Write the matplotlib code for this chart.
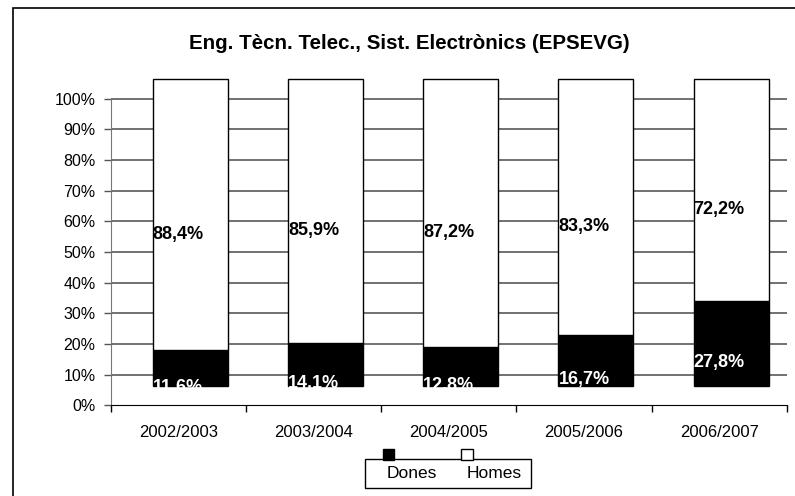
import matplotlib.pyplot as plt
from matplotlib.patches import Rectangle

plt.rcParams["font.family"] = ["Liberation Sans", "DejaVu Sans"]

years = ["2002/2003", "2003/2004", "2004/2005", "2005/2006", "2006/2007"]
dones = [11.6, 14.1, 12.8, 16.7, 27.8]
homes = [88.4, 85.9, 87.2, 83.3, 72.2]
dones_labels = ["11,6%", "14,1%", "12,8%", "16,7%", "27,8%"]
homes_labels = ["88,4%", "85,9%", "87,2%", "83,3%", "72,2%"]

# the bars sit a bit up and to the right of their slot (depth effect)
lift = 6.3
shift = 0.089
width = 0.555


def main():
    fig = plt.figure(figsize=(7.95, 4.96), dpi=100)
    ax = fig.add_axes([0.1392, 0.1829, 0.8504, 0.6800])
    ax.set_xlim(-0.5, 4.5)
    ax.set_ylim(0, 110)

    for y in range(10, 101, 10):
        ax.plot([-0.5, 4.5], [y, y], color="#4a4a4a", lw=1.1, zorder=1)

    for i in range(len(years)):
        x = i + shift
        left = x - width / 2
        b1 = ax.bar(x, dones[i], width, bottom=lift, color="black",
                    edgecolor="black", lw=1, zorder=2)[0]
        ax.bar(x, homes[i], width, bottom=lift + dones[i], color="white",
               edgecolor="black", lw=1, zorder=2)
        t1 = ax.text(left, dones[i] / 2, dones_labels[i], color="white",
                     fontsize=13, fontweight="bold", ha="left", va="center", zorder=3)
        t1.set_clip_path(b1)
        ax.text(left, dones[i] + homes[i] / 2, homes_labels[i], color="black",
                fontsize=13, fontweight="bold", ha="left", va="center", zorder=3)

    for s in ["top", "right"]:
        ax.spines[s].set_visible(False)
    ax.spines["left"].set_bounds(0, 100)
    ax.spines["left"].set_color("#777777")
    ax.spines["bottom"].set_color("black")

    ax.set_yticks(range(0, 101, 10))
    ax.set_yticklabels([f"{v}%" for v in range(0, 101, 10)], fontsize=11.5)
    ax.tick_params(axis="y", length=5, width=1, color="#555555", pad=6)

    ax.set_xticks([i - 0.5 for i in range(len(years) + 1)])
    ax.set_xticklabels([])
    ax.set_xticks(range(len(years)), minor=True)
    ax.set_xticklabels(years, minor=True, fontsize=12)
    ax.tick_params(axis="x", which="major", length=5, width=1)
    ax.tick_params(axis="x", which="minor", length=0, pad=14)

    fig.text(0.5145, 0.9127, "Eng. Tècn. Telec., Sist. Electrònics (EPSEVG)",
             ha="center", va="center", fontsize=14.8, fontweight="bold")

    # outer frame, cut at right and bottom
    fig.patches.append(Rectangle((12.5 / 795, -0.2), 1.2, 1.2 - 7.5 / 496,
                                 transform=fig.transFigure, fill=False,
                                 edgecolor="black", lw=1.2))

    # legend box with the keys drawn above it
    fig.patches.append(Rectangle((0.4591, 0.0167), 0.2088, 0.0573,
                                 transform=fig.transFigure, facecolor="white",
                                 edgecolor="black", lw=1))
    fig.text(412 / 795, 1 - 474 / 496, "Dones", ha="center", va="center", fontsize=12.5)
    fig.text(494 / 795, 1 - 474 / 496, "Homes", ha="center", va="center", fontsize=12.5)
    sq = 11.5
    for cx, col in [(388.3, "black"), (466.8, "white")]:
        fig.patches.append(Rectangle(((cx - sq / 2) / 795, 1 - (454.5 + sq / 2) / 496),
                                     sq / 795, sq / 496, transform=fig.transFigure,
                                     facecolor=col, edgecolor="black", lw=1))

    fig.savefig("out.png", dpi=100)


if __name__ == "__main__":
    main()
